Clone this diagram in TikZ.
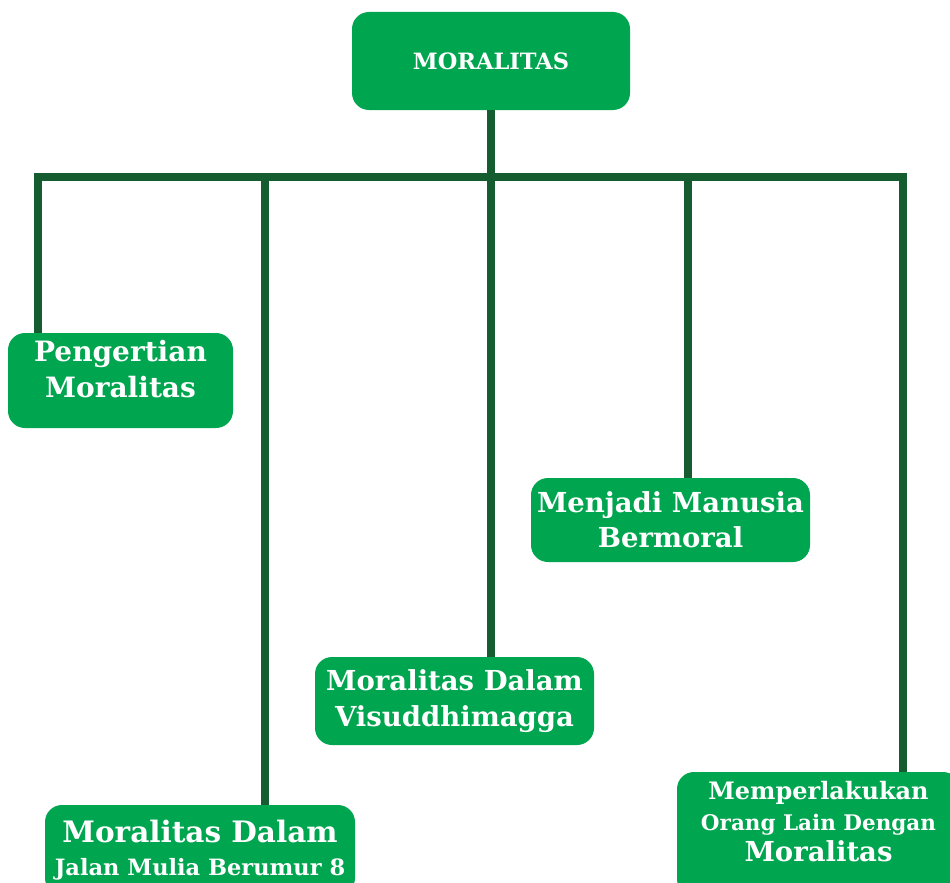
\documentclass[tikz,border=0pt]{standalone}
\usepackage{fontspec}
\setmainfont{DejaVu Serif}
\usepackage{tikz}
\definecolor{boxgreen}{HTML}{00A54F}
\definecolor{linegreen}{HTML}{155C30}
\newcommand{\fs}[2]{\fontsize{#1}{#2}\selectfont}

\begin{document}
\begin{tikzpicture}[x=1pt, y=-1pt,
    box/.style={fill=boxgreen, draw=none, rounded corners=17pt, text=white,
        align=center, inner sep=0pt},
    link/.style={linegreen, line width=7.5pt}]
                \clip (0,0) rectangle (950,883);
                \useasboundingbox (0,0) rectangle (950,883);

                \node[box, font=\bfseries\fs{22.5}{27}, minimum width=278, minimum height=98] (top) at (491,61)
                    {MORALITAS};

                \node[box, font=\bfseries\fs{28}{36}, minimum width=225, minimum height=95] (pen) at (120.5,380.5)
                    {Pengertian\\Moralitas\\[-23pt]\strut};
                \node[box, font=\bfseries\fs{27.5}{35}, minimum width=279, minimum height=84] (man) at (670.5,520)
                    {Menjadi Manusia\\Bermoral};
                \node[box, font=\bfseries\fs{27.5}{36}, minimum width=279, minimum height=88] (vis) at (454.5,701)
                    {Moralitas Dalam\\Visuddhimagga};
                \node[box, font=\bfseries\fs{29.5}{33}, minimum width=310, minimum height=90] (jal) at (200,850)
                    {Moralitas Dalam\\\fs{22.5}{33}Jalan Mulia Berumur 8};
                \node[box, font=\bfseries\fs{24}{31}, minimum width=283, minimum height=124] (mem) at (818.5,834)
                    {Memperlakukan\\\fs{21.5}{31}Orang Lain Dengan\\\fs{27.5}{31}Moralitas\\[-15pt]\strut};

                % the bar under MORALITAS
                \coordinate (j1) at (38,177);
                \coordinate (j2) at (265,177);
                \coordinate (j3) at (491,177);
                \coordinate (j4) at (688,177);
                \coordinate (j5) at (903,177);

                \draw[link] (top.south) -- (j3);
                \draw[link] ([xshift=-3.75pt]j1) -- ([xshift=3.75pt]j5);
                \draw[link] (j1) -- (j1 |- pen.north);
                \draw[link] (j2) -- (j2 |- jal.north);
                \draw[link] (j3) -- (j3 |- vis.north);
                \draw[link] (j4) -- (j4 |- man.north);
                \draw[link] (j5) -- (j5 |- mem.north);
\end{tikzpicture}
\end{document}
